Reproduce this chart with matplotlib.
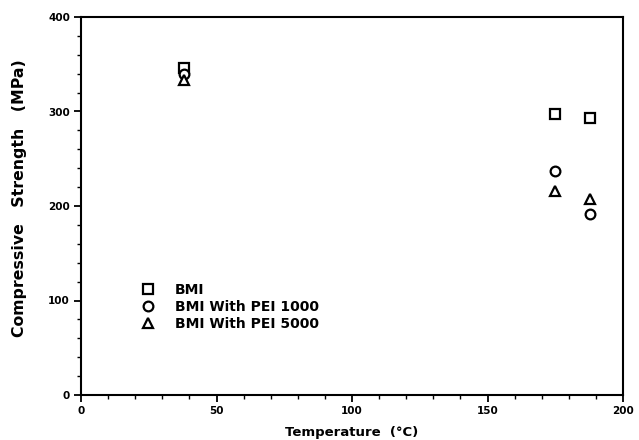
import matplotlib
matplotlib.use("Agg")
import matplotlib.pyplot as plt
from matplotlib.ticker import MultipleLocator

plt.rcParams['font.family'] = ['DejaVu Sans']

temps = [38, 175, 188]
bmi = [346, 297, 293]
bmi_pei1000 = [340, 237, 192]
bmi_pei5000 = [333, 216, 207]

labels = ["BMI", "BMI With PEI 1000", "BMI With PEI 5000"]

fig = plt.figure(figsize=(6.39, 4.40), dpi=100)
ax = fig.add_axes([81 / 639, 45 / 440, 542 / 639, 378 / 440])

ms = 7
ax.plot(temps, bmi, linestyle='none', marker='s', ms=ms, mfc='white', mec='black', mew=1.6, label=labels[0])
ax.plot(temps, bmi_pei1000, linestyle='none', marker='o', ms=ms, mfc='white', mec='black', mew=1.6, label=labels[1])
ax.plot(temps, bmi_pei5000, linestyle='none', marker='^', ms=ms, mfc='white', mec='black', mew=1.6, label=labels[2])

ax.set_xlim(0, 200)
ax.set_ylim(0, 400)
ax.xaxis.set_major_locator(MultipleLocator(50))
ax.xaxis.set_minor_locator(MultipleLocator(10))
ax.yaxis.set_major_locator(MultipleLocator(100))
ax.yaxis.set_minor_locator(MultipleLocator(20))
ax.tick_params(which='major', direction='out', length=5, width=1.3, labelsize=7.5, pad=3)
ax.tick_params(which='minor', direction='out', length=3, width=1.0)
for lab in ax.get_xticklabels() + ax.get_yticklabels():
    lab.set_fontweight('bold')
for sp in ax.spines.values():
    sp.set_linewidth(1.5)

ax.set_xlabel("Temperature  (\u00b0C)", fontsize=9.5, fontweight='bold', labelpad=7)
ax.set_ylabel("Compressive   Strength   (MPa)", fontsize=11.3, fontweight='bold')
ax.yaxis.set_label_coords(-0.099, 0.522)

leg = ax.legend(loc='lower left', bbox_to_anchor=(0.088, 0.155), frameon=False,
                prop={'weight': 'bold', 'size': 10}, handletextpad=0.9,
                labelspacing=0.2, borderaxespad=0)

fig.savefig("out.png", dpi=100)
